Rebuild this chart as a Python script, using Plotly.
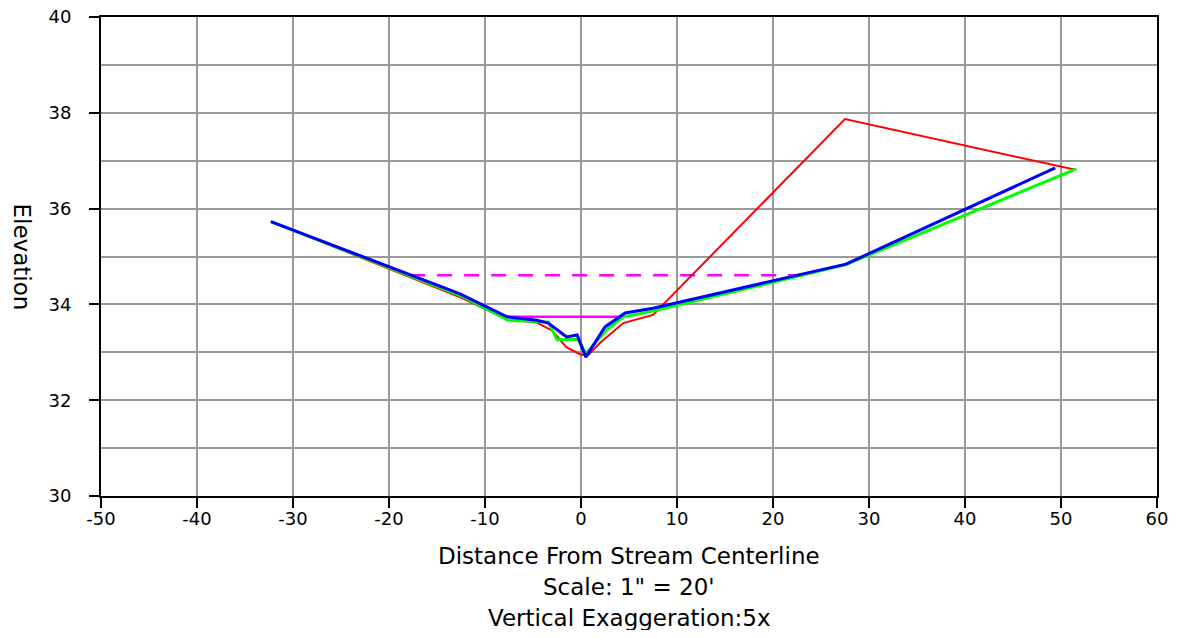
import plotly.graph_objects as go

# Cross-section data (distance from centerline, elevation)
red_x = [-32.3, -12.5, -7.6, -4.6, -3.0, -1.5, 0.0, 0.8, 2.0, 4.4, 7.5, 27.5, 51.5]
red_y = [35.73, 34.14, 33.68, 33.62, 33.45, 33.10, 32.95, 32.95, 33.20, 33.61, 33.78, 37.87, 36.81]

green_x = [-32.3, -12.5, -7.6, -3.4, -2.5, -0.3, 0.5, 2.7, 4.4, 7.5, 27.6, 51.6]
green_y = [35.73, 34.18, 33.67, 33.63, 33.26, 33.27, 32.97, 33.47, 33.74, 33.86, 34.83, 36.83]

blue_x = [-32.3, -12.6, -7.7, -4.6, -3.4, -1.5, -0.4, 0.5, 2.5, 4.6, 7.5, 27.6, 49.4]
blue_y = [35.73, 34.22, 33.74, 33.67, 33.61, 33.32, 33.36, 32.90, 33.53, 33.82, 33.92, 34.84, 36.85]

water_x = [-7.7, 4.3]
water_y = [33.74, 33.74]

bankfull_x = [-17.8, 22.8]
bankfull_y = [34.61, 34.61]

x_ticks = [-50, -40, -30, -20, -10, 0, 10, 20, 30, 40, 50, 60]
y_ticks = [30, 32, 34, 36, 38, 40]

FONT = "DejaVu Sans"
GRID = "#999999"

fig = go.Figure()
fig.add_trace(go.Scatter(x=bankfull_x, y=bankfull_y, mode="lines",
                         line=dict(color="#FF00FF", width=2.5, dash="15px,12px")))
fig.add_trace(go.Scatter(x=water_x, y=water_y, mode="lines",
                         line=dict(color="#FF00FF", width=2.5)))
fig.add_trace(go.Scatter(x=red_x, y=red_y, mode="lines",
                         line=dict(color="#FF0000", width=2)))
fig.add_trace(go.Scatter(x=green_x, y=green_y, mode="lines",
                         line=dict(color="#00FF00", width=3)))
fig.add_trace(go.Scatter(x=blue_x, y=blue_y, mode="lines",
                         line=dict(color="#0000FF", width=3)))

fig.update_layout(
    width=1166, height=622,
    margin=dict(l=93, r=17, t=9, b=134),
    paper_bgcolor="white", plot_bgcolor="white",
    showlegend=False,
    font=dict(family=FONT, size=18, color="black"),
    xaxis=dict(range=[-50, 60], tickvals=x_ticks, ticktext=[str(v) for v in x_ticks],
               showgrid=True, gridcolor=GRID, gridwidth=2, automargin=False,
               ticklabeloverflow="allow",
               ticks="outside", ticklen=10, tickcolor="black", tickwidth=1.5,
               showline=True, linecolor="black", linewidth=2, mirror=True,
               zeroline=False, ticklabelstandoff=-5, tickfont=dict(size=18, family=FONT)),
    yaxis=dict(range=[30, 40], tickvals=y_ticks, ticktext=[str(v) for v in y_ticks],
               showgrid=True, gridcolor=GRID, gridwidth=2, automargin=False,
               ticklabeloverflow="allow",
               minor=dict(dtick=1, showgrid=True, gridcolor=GRID, gridwidth=2, ticks=""),
               ticks="outside", ticklen=10, tickcolor="black", tickwidth=1.5,
               showline=True, linecolor="black", linewidth=2, mirror=True,
               zeroline=False, ticklabelstandoff=14, tickfont=dict(size=18, family=FONT)),
)

title_lines = ["Distance From Stream Centerline", "Scale: 1\" = 20'", "Vertical Exaggeration:5x"]
for i, t in enumerate(title_lines):
    fig.add_annotation(text=t, xref="paper", yref="paper", x=0.5, y=0,
                       yshift=-(60 + 31 * i), yanchor="middle", showarrow=False,
                       font=dict(size=23, family=FONT, color="black"))

fig.add_annotation(text="Elevation", xref="paper", yref="paper", x=0, y=0.5,
                   xshift=-79, xanchor="center", yanchor="middle", textangle=90,
                   showarrow=False, font=dict(size=23, family=FONT, color="black"))

fig.write_html("out.html")
